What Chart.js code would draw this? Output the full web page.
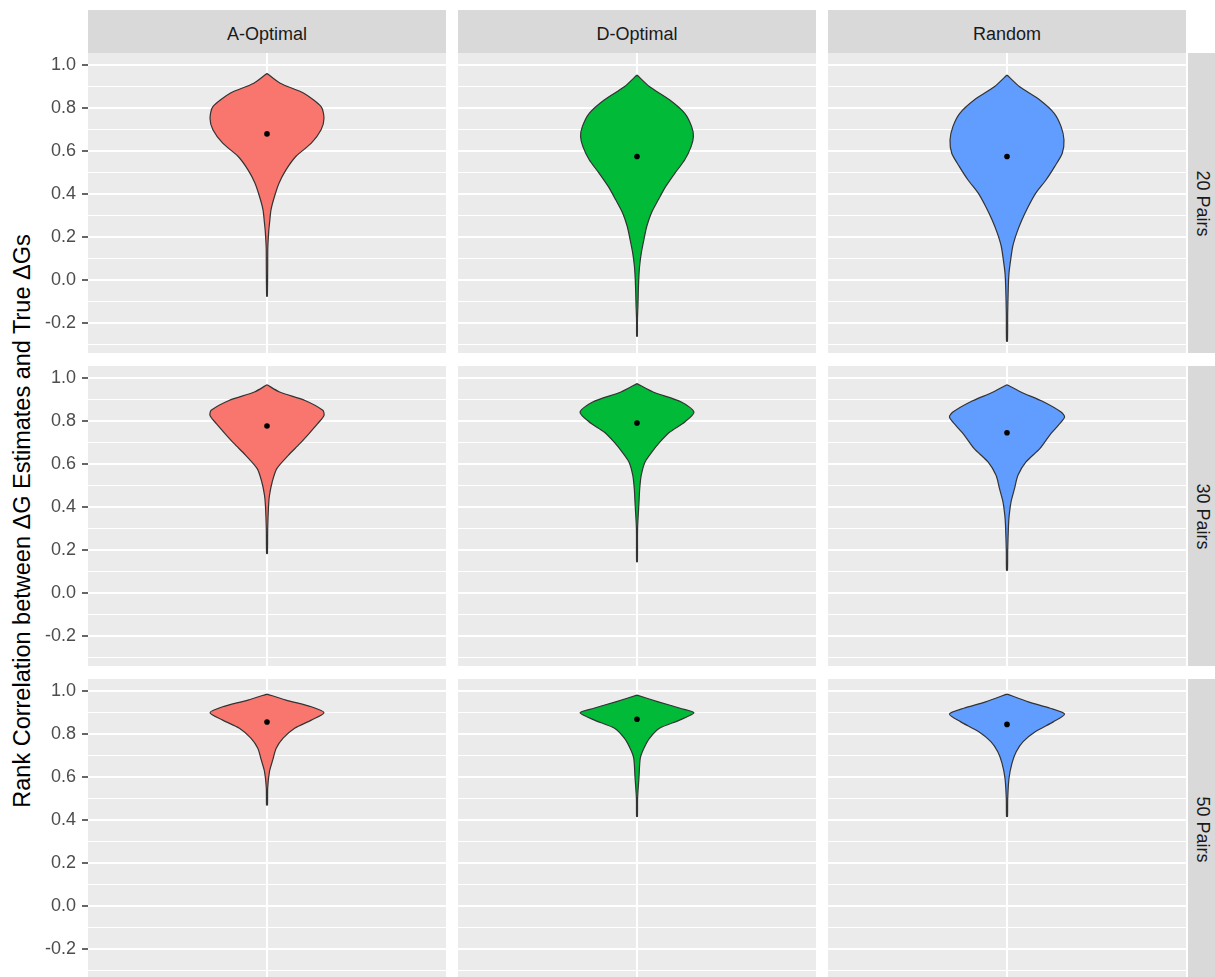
<!DOCTYPE html>
<html>
<head>
<meta charset="utf-8">
<script src="https://cdn.jsdelivr.net/npm/chart.js@4.4.1/dist/chart.umd.min.js"></script>
<style>
  body { margin: 0; background: #fff; width: 1215px; height: 977px; overflow: hidden; position: relative;
         font-family: "Liberation Sans", Arial, sans-serif; }
  .strip { position: absolute; background: #d9d9d9; color: #1a1a1a; font-size: 18px; box-sizing: border-box;
           display: flex; align-items: center; justify-content: center; white-space: nowrap; }
  .strip.top { padding-top: 6px; }
  .strip.side span { display: inline-block; transform: rotate(90deg); margin-left: 2px; }
  canvas { position: absolute; }
  #ytitle { position: absolute; left: 22px; top: 521px; transform: translate(-50%, -50%) rotate(-90deg);
            font-size: 23.5px; white-space: nowrap; color: #000; }
</style>
</head>
<body>
<div id="ytitle">Rank Correlation between ΔG Estimates and True ΔGs</div>
<script>
const methods = ['A-Optimal', 'D-Optimal', 'Random'];
const pairLabels = ['20 Pairs', '30 Pairs', '50 Pairs'];

// violin outlines: correlation values (top to bottom) and relative density width
const a20Y = [0.961, 0.915, 0.869, 0.807, 0.753, 0.699, 0.637, 0.575, 0.513, 0.452, 0.389, 0.328, 0.266, 0.227, 0.15, 0.07, -0.074];
const a20W = [0, 0.23, 0.64, 0.94, 0.99, 0.94, 0.77, 0.50, 0.33, 0.21, 0.13, 0.07, 0.044, 0.03, 0.014, 0.012, 0.006];
const d20Y = [0.954, 0.899, 0.838, 0.776, 0.714, 0.668, 0.621, 0.560, 0.498, 0.436, 0.374, 0.313, 0.251, 0.189, 0.127, 0.065, 0.003, -0.058, -0.113, -0.18, -0.26];
const d20W = [0, 0.22, 0.57, 0.83, 0.95, 0.98, 0.94, 0.83, 0.66, 0.50, 0.37, 0.25, 0.17, 0.12, 0.075, 0.045, 0.03, 0.022, 0.017, 0.008, 0.006];
const r20Y = [0.954, 0.899, 0.838, 0.776, 0.714, 0.652, 0.590, 0.529, 0.467, 0.405, 0.343, 0.281, 0.220, 0.158, 0.096, 0.034, -0.028, -0.15, -0.283];
const r20W = [0, 0.22, 0.57, 0.82, 0.94, 0.99, 0.96, 0.83, 0.68, 0.50, 0.37, 0.26, 0.17, 0.10, 0.064, 0.035, 0.023, 0.012, 0.008];

const a30Y = [0.969, 0.935, 0.896, 0.850, 0.826, 0.788, 0.742, 0.695, 0.641, 0.579, 0.517, 0.455, 0.401, 0.30, 0.185];
const a30W = [0, 0.22, 0.66, 0.97, 0.99, 0.88, 0.73, 0.57, 0.37, 0.17, 0.09, 0.043, 0.026, 0.012, 0.007];
const d30Y = [0.974, 0.935, 0.889, 0.842, 0.796, 0.749, 0.703, 0.657, 0.610, 0.548, 0.486, 0.425, 0.30, 0.146];
const d30W = [0, 0.28, 0.77, 0.99, 0.83, 0.57, 0.40, 0.26, 0.14, 0.073, 0.047, 0.035, 0.01, 0.007];
const r30Y = [0.969, 0.935, 0.889, 0.842, 0.819, 0.780, 0.734, 0.672, 0.610, 0.548, 0.486, 0.425, 0.362, 0.316, 0.20, 0.107];
const r30W = [0, 0.24, 0.64, 0.94, 1.0, 0.89, 0.74, 0.57, 0.33, 0.19, 0.13, 0.07, 0.038, 0.026, 0.012, 0.008];

const a50Y = [0.986, 0.958, 0.927, 0.899, 0.865, 0.827, 0.781, 0.734, 0.680, 0.626, 0.55, 0.471];
const a50W = [0, 0.33, 0.77, 0.99, 0.77, 0.48, 0.28, 0.16, 0.10, 0.043, 0.012, 0.008];
const d50Y = [0.981, 0.950, 0.920, 0.899, 0.865, 0.827, 0.781, 0.734, 0.688, 0.602, 0.50, 0.417];
const d50W = [0, 0.37, 0.75, 0.99, 0.74, 0.39, 0.22, 0.12, 0.057, 0.035, 0.01, 0.007];
const r50Y = [0.986, 0.950, 0.920, 0.893, 0.858, 0.811, 0.765, 0.718, 0.665, 0.595, 0.50, 0.417];
const r50W = [0, 0.37, 0.75, 1.0, 0.81, 0.49, 0.28, 0.16, 0.087, 0.035, 0.012, 0.008];

// mean points per method, rows 20 / 30 / 50 pairs
const meanA = [0.680, 0.777, 0.856];
const meanD = [0.575, 0.791, 0.869];
const meanR = [0.575, 0.746, 0.845];

const yTickLabels = [-0.2, 0.0, 0.2, 0.4, 0.6, 0.8, 1.0];

const violins = [
  [[a20Y, a20W], [d20Y, d20W], [r20Y, r20W]],
  [[a30Y, a30W], [d30Y, d30W], [r30Y, r30W]],
  [[a50Y, a50W], [d50Y, d50W], [r50Y, r50W]]
];
const means = [meanA, meanD, meanR];
const fills = ['#F8766D', '#00BA38', '#619CFF'];

// layout
const colLeft = [88, 458, 828];
const rowTop = [53, 366, 679];
const panelW = 358, panelH = 300, axisW = 60;

function addDiv(cls, text, l, t, w, h) {
  const d = document.createElement('div');
  d.className = cls;
  d.style.cssText = `left:${l}px;top:${t}px;width:${w}px;height:${h}px;`;
  const s = document.createElement('span');
  s.textContent = text;
  d.appendChild(s);
  document.body.appendChild(d);
}

methods.forEach((m, c) => addDiv('strip top', m, colLeft[c], 10, panelW, 43));
pairLabels.forEach((p, r) => addDiv('strip side', p, 1188, rowTop[r], 27, panelH));

function outline(ys, ws) {
  const right = ys.map((y, i) => ({x: ws[i], y}));
  const left = ys.map((y, i) => ({x: -ws[i], y})).reverse();
  return right.concat(left);
}

const isMajor = v => Math.round(v * 10) % 2 === 0;

const panelBg = {
  id: 'panelBg',
  beforeDraw(chart) {
    const a = chart.chartArea, ctx = chart.ctx;
    ctx.save();
    ctx.fillStyle = '#EBEBEB';
    ctx.fillRect(a.left, a.top, a.right - a.left, a.bottom - a.top);
    ctx.restore();
  }
};

for (let r = 0; r < 3; r++) {
  for (let c = 0; c < 3; c++) {
    const withAxis = c === 0;
    const cv = document.createElement('canvas');
    const w = panelW + (withAxis ? axisW : 0);
    cv.width = w; cv.height = panelH;
    cv.style.left = (colLeft[c] - (withAxis ? axisW : 0)) + 'px';
    cv.style.top = rowTop[r] + 'px';
    cv.style.width = w + 'px'; cv.style.height = panelH + 'px';
    document.body.appendChild(cv);

    const [ys, ws] = violins[r][c];
    new Chart(cv.getContext('2d'), {
      type: 'scatter',
      data: {
        datasets: [
          {
            // mean point, drawn on top
            data: [{x: 0, y: means[c][r]}],
            order: 0,
            pointRadius: 2.8,
            pointBackgroundColor: '#000',
            pointBorderWidth: 0
          },
          {
            data: outline(ys, ws),
            order: 1,
            showLine: true,
            fill: 'shape',
            backgroundColor: fills[c],
            borderColor: '#333333',
            borderWidth: 1.2,
            pointRadius: 0,
            tension: 0.25
          }
        ]
      },
      options: {
        responsive: false,
        animation: false,
        devicePixelRatio: 1,
        layout: { padding: 0, autoPadding: false },
        plugins: { legend: { display: false }, tooltip: { enabled: false } },
        scales: {
          x: {
            type: 'linear', min: -3.11, max: 3.11,
            afterBuildTicks: s => { s.ticks = [{value: 0}]; },
            afterFit: s => { s.height = 0; s.paddingLeft = 0; s.paddingRight = 0; },
            ticks: { display: false },
            border: { display: false },
            grid: { color: '#ffffff', lineWidth: 2, drawTicks: false }
          },
          y: {
            type: 'linear', min: -0.338, max: 1.056,
            afterFit: s => { s.width = withAxis ? axisW : 0; s.paddingTop = 0; s.paddingBottom = 0; },
            ticks: {
              display: withAxis,
              stepSize: 0.1,
              includeBounds: false,
              autoSkip: false,
              padding: 6,
              color: '#4D4D4D',
              font: { family: '"Liberation Sans", Arial, sans-serif', size: 18 },
              callback: v => {
                const hit = yTickLabels.find(t => Math.abs(t - v) < 1e-6);
                return hit === undefined ? '' : hit.toFixed(1);
              }
            },
            border: { display: false },
            grid: {
              color: '#ffffff',
              lineWidth: ctx => isMajor(ctx.tick.value) ? 2 : 1,
              drawTicks: withAxis,
              tickLength: 6,
              tickWidth: 1.5,
              tickColor: ctx => isMajor(ctx.tick.value) ? '#333333' : 'rgba(0,0,0,0)'
            }
          }
        }
      },
      plugins: [panelBg]
    });
  }
}
</script>
</body>
</html>
